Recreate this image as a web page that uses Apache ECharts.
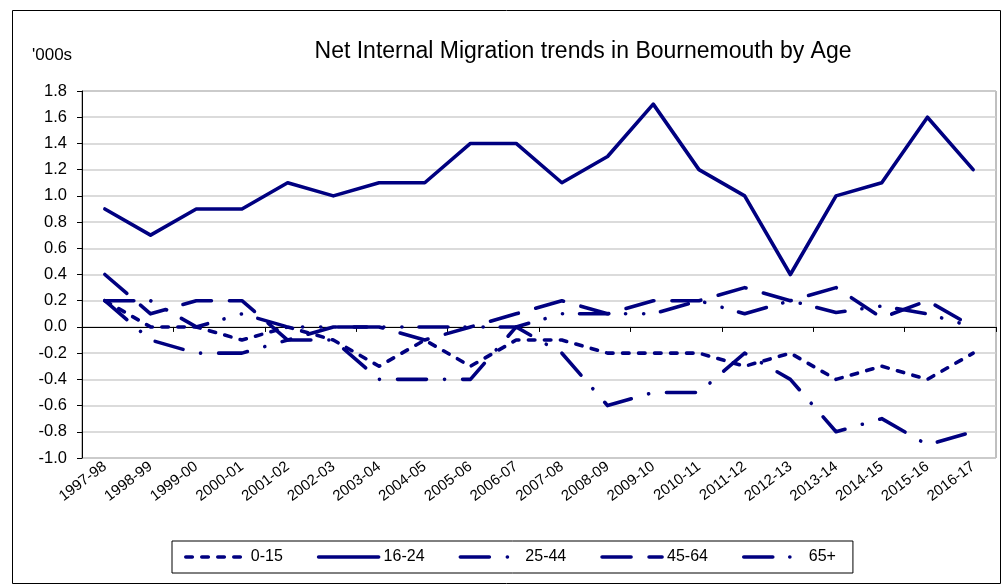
<!DOCTYPE html>
<html><head><meta charset="utf-8">
<script src="https://cdn.jsdelivr.net/npm/echarts@6/dist/echarts.min.js"></script>
<style>html,body{margin:0;padding:0;background:#fff}#c{width:1002px;height:585px}</style>
</head><body><div id="c"></div>
<script>
const categories = ['1997-98','1998-99','1999-00','2000-01','2001-02','2002-03','2003-04','2004-05','2005-06','2006-07','2007-08','2008-09','2009-10','2010-11','2011-12','2012-13','2013-14','2014-15','2015-16','2016-17'];
const age0_15  = [0.2, 0.0, 0.0, -0.1, 0.0, -0.1, -0.3, -0.1, -0.3, -0.1, -0.1, -0.2, -0.2, -0.2, -0.3, -0.2, -0.4, -0.3, -0.4, -0.2];
const age16_24 = [0.9, 0.7, 0.9, 0.9, 1.1, 1.0, 1.1, 1.1, 1.4, 1.4, 1.1, 1.3, 1.7, 1.2, 1.0, 0.4, 1.0, 1.1, 1.6, 1.2];
const age25_44 = [0.2, -0.1, -0.2, -0.2, -0.1, -0.1, -0.4, -0.4, -0.4, 0.0, -0.2, -0.6, -0.5, -0.5, -0.2, -0.4, -0.8, -0.7, -0.9, -0.8];
const age45_64 = [0.4, 0.1, 0.2, 0.2, -0.1, 0.0, 0.0, -0.1, 0.0, 0.1, 0.2, 0.1, 0.2, 0.2, 0.3, 0.2, 0.3, 0.07, 0.2, 0.0];
const age65    = [0.2, 0.2, 0.0, 0.1, 0.0, 0.0, 0.0, 0.0, 0.0, 0.0, 0.1, 0.1, 0.1, 0.2, 0.1, 0.2, 0.11, 0.16, 0.1, 0.0];
const seriesNames = ['0-15','16-24','25-44','45-64','65+'];
const yMin = -1.0, yMax = 1.8, yStep = 0.2;

const FONT = 'Liberation Sans, Arial, sans-serif';
const NAVY = '#000080';
const W = 3.6;
const dashes = {
  '0-15': [6.5, 9.5],
  '16-24': 'solid',
  '25-44': [29, 18, 0.1, 18],
  '45-64': [29, 18],
  '65+': [29, 17, 0.1, 18, 0.1, 17]
};
const dataMap = {'0-15': age0_15, '16-24': age16_24, '25-44': age25_44, '45-64': age45_64, '65+': age65};

const chart = echarts.init(document.getElementById('c'), null, {renderer: 'canvas'});
chart.setOption({
  animation: false,
  backgroundColor: '#fff',
  textStyle: {fontFamily: FONT},
  title: {
    text: 'Net Internal Migration trends in Bournemouth by Age',
    left: 578, top: 35, textAlign: 'center',
    textStyle: {fontFamily: FONT, fontSize: 23, fontWeight: 'normal', color: '#000'}
  },
  graphic: [
    {type: 'rect', shape: {x: 12.5, y: 10.5, width: 988, height: 573}, style: {fill: null, stroke: '#000', lineWidth: 1}, silent: true, z: -10},
    {type: 'text', left: 32, top: 47, style: {text: "'000s", font: '17px ' + FONT, fill: '#000'}}
  ],
  legend: {
    data: seriesNames,
    left: 172, top: 541,
    padding: [8, 17, 8, 12],
    itemGap: 34,
    itemWidth: 60, itemHeight: 14,
    borderColor: '#000', borderWidth: 1, borderRadius: 0,
    textStyle: {fontFamily: FONT, fontSize: 16, color: '#000'},
    lineStyle: {width: W},
    itemStyle: {color: 'rgba(0,0,0,0)', borderWidth: 0, opacity: 0}
  },
  grid: {left: 82, top: 91, right: 6, bottom: 127, show: true, borderColor: '#808080', borderWidth: 1, containLabel: false},
  xAxis: [
    {type: 'category', data: categories, boundaryGap: true,
     axisLine: {onZero: true, lineStyle: {color: '#000', width: 1}},
     axisTick: {show: true, length: 5, lineStyle: {color: '#000'}},
     axisLabel: {show: false}, splitLine: {show: false}},
    {type: 'category', data: categories, boundaryGap: true, position: 'bottom',
     axisLine: {show: false, onZero: false}, axisTick: {show: false},
     axisLabel: {show: true, rotate: 37, fontSize: 15, color: '#000', fontFamily: FONT, margin: 7, interval: 0},
     splitLine: {show: false}}
  ],
  yAxis: {
    type: 'value', min: yMin, max: yMax, interval: yStep,
    axisLine: {show: true, onZero: false, lineStyle: {color: '#000', width: 1}},
    axisTick: {show: true, length: 5, lineStyle: {color: '#000'}},
    axisLabel: {color: '#000', fontSize: 16.5, fontFamily: FONT, margin: 15, formatter: v => v.toFixed(1)},
    splitLine: {show: true, lineStyle: {color: '#cfcfcf', width: 1.5}}
  },
  series: seriesNames.map(n => ({
    name: n, type: 'line', xAxisIndex: 0, data: dataMap[n],
    symbol: 'none', showSymbol: false,
    lineStyle: {color: NAVY, width: W, type: dashes[n], cap: 'round', join: 'round'},
    itemStyle: {color: NAVY}
  }))
});
</script></body></html>
